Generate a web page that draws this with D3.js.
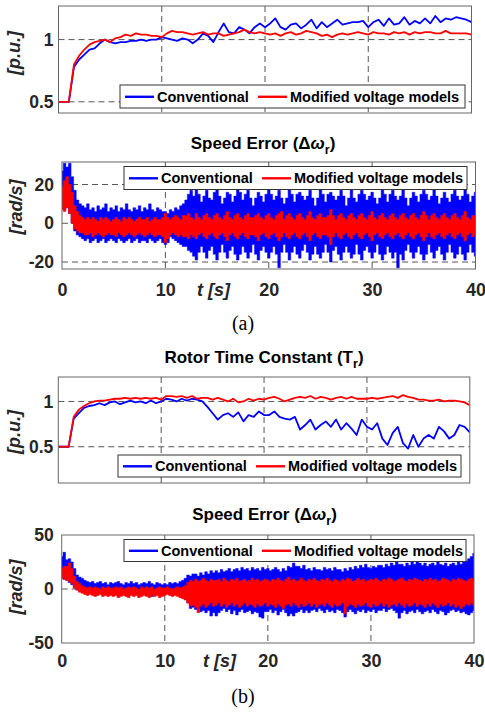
<!DOCTYPE html>
<html>
<head>
<meta charset="utf-8">
<script src="https://cdn.jsdelivr.net/npm/d3@7"></script>
<style>
  html, body { margin: 0; padding: 0; background: #fff; }
  svg { display: block; }
</style>
</head>
<body>
<svg id="fig" width="485" height="713"></svg>
<script>
// ---- shared labels ----
const timeTicks = [0, 10, 20, 30, 40];
const seriesNames = ["Conventional", "Modified voltage models"];
const seriesColors = ["#0000ff", "#ff0000"];

// ---- (a) rotor time constant estimate [p.u.], one sample every 0.5 s ----
const trStep = 0.5;
const trA_conv = [
  0.5, 0.5, 0.5, 0.78, 0.84, 0.88, 0.92, 0.93, 0.97, 1.0,
  0.98, 0.97, 0.98, 0.98, 0.99, 0.99, 1.0, 0.99, 1.0, 1.0,
  1.02, 1.01, 1.0, 0.99, 1.01, 1.0, 0.97, 1.0, 1.05, 1.03,
  0.98, 1.06, 1.13, 1.06, 1.05, 1.10, 1.08, 1.05, 1.10, 1.13,
  1.10, 1.13, 1.17, 1.10, 1.08, 1.12, 1.13, 1.09, 1.12, 1.16,
  1.09, 1.14, 1.10, 1.13, 1.16, 1.12, 1.13, 1.14, 1.14, 1.15,
  1.10, 1.14, 1.16, 1.11, 1.17, 1.12, 1.13, 1.18, 1.12, 1.15,
  1.13, 1.17, 1.13, 1.19, 1.14, 1.17, 1.16, 1.18, 1.17, 1.16, 1.14
];
const trA_mod = [
  0.5, 0.5, 0.5, 0.8, 0.87, 0.92, 0.96, 0.98, 0.99, 1.0,
  0.98, 1.01, 1.02, 1.04, 1.03, 1.05, 1.04, 1.04, 1.03, 1.03,
  1.02, 1.05, 1.07, 1.06, 1.06, 1.05, 1.04, 1.05, 1.06, 1.04,
  1.05, 1.05, 1.03, 1.04, 1.05, 1.06, 1.08, 1.06, 1.05, 1.06,
  1.05, 1.04, 1.05, 1.03, 1.05, 1.06, 1.04, 1.05, 1.07, 1.06,
  1.05, 1.03, 1.04, 1.02, 1.04, 1.05, 1.04, 1.05, 1.06, 1.05,
  1.04, 1.06, 1.05, 1.05, 1.04, 1.06, 1.05, 1.06, 1.04, 1.06,
  1.05, 1.06, 1.06, 1.05, 1.05, 1.07, 1.05, 1.05, 1.05, 1.05, 1.04
];

// ---- (a) speed error band [rad/s]: upper / lower envelope every 0.25 s ----
const seStep = 0.25;
const seA_convHi = [
  27, 31, 29, 31, 24, 17, 12, 10, 9, 8, 10, 7, 8, 6, 9, 7, 8, 10, 6, 8,
  7, 9, 6, 8, 7, 10, 7, 6, 8, 7, 9, 6, 8, 7, 10, 7, 6, 8, 7, 6,
  6, 5, 7, 6, 8, 7, 9, 10, 12, 15, 17, 14, 18, 15, 11, 14, 17, 13, 12, 16,
  18, 14, 10, 13, 16, 15, 11, 14, 18, 16, 12, 15, 17, 13, 9, 13, 16, 14, 11, 15,
  18, 15, 12, 14, 17, 13, 10, 13, 18, 15, 11, 15, 16, 14, 12, 14, 17, 13, 9, 13,
  18, 15, 11, 15, 16, 14, 12, 14, 17, 14, 9, 13, 18, 13, 11, 15, 17, 15, 12, 14,
  16, 13, 10, 13, 18, 15, 11, 15, 17, 14, 12, 14, 18, 13, 9, 13, 16, 14, 11, 15,
  17, 15, 12, 14, 18, 14, 10, 13, 16, 13, 11, 15, 17, 14, 12, 14, 18, 15, 11, 14,
  16
];
const seA_convLo = [
  9, 7, 8, 5, 0, -4, -6, -7, -8, -9, -8, -10, -9, -8, -10, -9, -8, -10, -9, -8,
  -9, -10, -8, -9, -10, -9, -8, -10, -9, -8, -10, -9, -9, -10, -8, -9, -10, -9, -8, -10,
  -11, -10, -7, -8, -9, -10, -11, -12, -12, -14, -15, -17, -19, -15, -12, -15, -18, -14, -12, -16,
  -19, -15, -11, -15, -18, -14, -12, -16, -19, -16, -12, -15, -18, -15, -11, -16, -19, -14, -12, -15,
  -18, -15, -12, -16, -23, -15, -11, -15, -19, -15, -12, -16, -18, -14, -11, -15, -19, -16, -12, -16,
  -18, -15, -11, -15, -20, -14, -12, -16, -19, -15, -12, -15, -18, -16, -11, -16, -19, -14, -12, -15,
  -18, -15, -11, -16, -19, -16, -12, -15, -18, -15, -23, -16, -19, -14, -11, -15, -18, -15, -12, -16,
  -19, -16, -11, -15, -18, -14, -12, -16, -19, -15, -11, -15, -18, -16, -12, -16, -19, -15, -11, -15,
  -17
];
const seA_modHi = [
  19, 22, 24, 20, 16, 9, 6, 4, 3, 2, 3, 2, 3, 2, 1, 3, 2, 3, 2, 1,
  2, 3, 2, 1, 3, 2, 3, 2, 1, 2, 3, 2, 2, 3, 1, 2, 3, 2, 2, 3,
  5, 3, 2, 3, 4, 3, 2, 4, 4, 5, 3, 2, 5, 3, 2, 4, 5, 3, 2, 4,
  5, 3, 2, 4, 6, 3, 2, 4, 5, 3, 2, 4, 5, 3, 3, 4, 5, 3, 2, 4,
  5, 3, 2, 4, 5, 6, 2, 4, 5, 3, 2, 4, 5, 3, 2, 4, 6, 3, 2, 4,
  5, 3, 3, 4, 7, 4, 2, 4, 5, 3, 2, 4, 5, 3, 2, 4, 5, 3, 2, 4,
  6, 3, 2, 4, 5, 3, 2, 4, 5, 3, 2, 4, 5, 3, 2, 4, 5, 3, 2, 4,
  6, 4, 2, 4, 5, 3, 2, 4, 5, 3, 2, 4, 5, 3, 2, 4, 6, 3, 2, 4,
  4
];
const seA_modLo = [
  7, 6, 8, 5, 0, -3, -4, -5, -5, -6, -6, -5, -7, -6, -5, -6, -7, -6, -5, -6,
  -6, -7, -5, -6, -7, -6, -5, -6, -7, -6, -5, -6, -7, -6, -5, -6, -7, -6, -6, -7,
  -10, -8, -6, -5, -6, -7, -6, -7, -7, -8, -6, -7, -8, -6, -5, -7, -8, -6, -5, -7,
  -8, -6, -5, -7, -9, -6, -5, -7, -8, -6, -5, -7, -8, -6, -6, -7, -9, -6, -5, -7,
  -8, -6, -5, -7, -9, -7, -5, -7, -8, -6, -5, -7, -8, -6, -5, -7, -9, -6, -5, -7,
  -8, -6, -6, -7, -11, -7, -5, -7, -8, -6, -5, -7, -8, -6, -5, -7, -8, -6, -5, -7,
  -9, -6, -5, -7, -8, -6, -5, -7, -8, -6, -5, -7, -8, -6, -5, -7, -8, -6, -5, -7,
  -9, -7, -5, -7, -8, -6, -5, -7, -8, -6, -5, -7, -8, -6, -5, -7, -9, -6, -5, -7,
  -6
];

// ---- (b) rotor time constant estimate [p.u.], one sample every 0.5 s ----
const trB_conv = [
  0.5, 0.5, 0.5, 0.81, 0.87, 0.93, 0.95, 0.96, 0.98, 0.96,
  0.99, 1.0, 0.97, 0.99, 1.01, 0.99, 1.0, 0.98, 1.01, 0.98,
  1.0, 1.03, 1.02, 1.0, 1.03, 1.01, 1.03, 1.02, 1.0, 0.94,
  0.87, 0.80, 0.85, 0.87, 0.83, 0.88, 0.78, 0.85, 0.83, 0.89,
  0.85, 0.85, 0.89, 0.83, 0.81, 0.80, 0.83, 0.69, 0.74, 0.80,
  0.69, 0.74, 0.78, 0.72, 0.80, 0.69, 0.76, 0.70, 0.63, 0.80,
  0.72, 0.69, 0.76, 0.59, 0.52, 0.65, 0.72, 0.54, 0.48, 0.63,
  0.50, 0.59, 0.63, 0.59, 0.72, 0.67, 0.59, 0.63, 0.74, 0.72, 0.66
];
const trB_mod = [
  0.5, 0.5, 0.5, 0.83, 0.91, 0.95, 0.98, 1.0, 1.01, 1.01,
  1.02, 1.03, 1.03, 1.04, 1.03, 1.04, 1.03, 1.04, 1.03, 1.04,
  1.02, 1.06, 1.06, 1.05, 1.06, 1.04, 1.06, 1.03, 1.04, 1.04,
  1.02, 1.04, 1.02, 1.0, 1.03, 0.99, 1.0, 1.03, 1.01, 1.03,
  1.02, 1.04, 1.05, 1.03, 1.0, 1.02, 1.04, 1.05, 1.04, 1.06,
  1.03, 1.05, 1.04, 1.02, 1.04, 1.05, 1.03, 1.05, 1.03, 1.03,
  1.03, 1.04, 1.03, 1.04, 1.05, 1.06, 1.04, 1.07, 1.05, 1.04,
  1.02, 1.02, 1.01, 1.01, 1.02, 1.0, 1.01, 1.01, 1.0, 0.99, 0.96
];

// ---- (b) speed error band [rad/s]: upper / lower envelope every 0.25 s ----
const seB_convHi = [
  30, 34, 27, 28, 25, 19, 13, 11, 10, 8, 7, 6, 7, 5, 6, 7, 5, 6, 4, 6,
  5, 6, 7, 5, 4, 6, 5, 7, 5, 6, 4, 5, 6, 5, 7, 5, 4, 6, 5, 4,
  5, 4, 6, 5, 6, 5, 7, 8, 10, 13, 12, 14, 14, 12, 15, 13, 16, 14, 17, 15,
  17, 15, 18, 16, 17, 19, 16, 18, 19, 17, 20, 18, 19, 17, 20, 18, 19, 17, 20, 18,
  19, 17, 18, 20, 18, 16, 19, 17, 21, 20, 24, 21, 21, 19, 22, 18, 19, 17, 20, 18,
  18, 17, 20, 18, 19, 17, 20, 18, 18, 16, 19, 17, 20, 18, 21, 19, 22, 20, 23, 20,
  19, 21, 20, 22, 22, 20, 23, 21, 24, 22, 25, 23, 23, 21, 24, 22, 25, 23, 26, 24,
  22, 24, 21, 23, 24, 22, 25, 23, 22, 24, 21, 23, 24, 22, 25, 23, 25, 26, 28, 30,
  33
];
const seB_convLo = [
  10, 9, 8, 6, 4, 1, -1, -2, -3, -4, -5, -4, -5, -6, -5, -4, -6, -5, -6, -5,
  -6, -5, -7, -6, -5, -6, -7, -5, -6, -5, -7, -6, -5, -6, -5, -7, -6, -5, -6, -5,
  -5, -4, -5, -6, -5, -6, -7, -8, -10, -13, -18, -17, -19, -18, -21, -20, -22, -20, -25, -22,
  -25, -22, -20, -18, -21, -19, -23, -20, -24, -21, -19, -22, -21, -20, -23, -21, -22, -26, -27, -21,
  -21, -19, -22, -20, -24, -21, -19, -22, -25, -23, -25, -22, -21, -19, -22, -20, -22, -20, -19, -21,
  -18, -20, -22, -19, -21, -20, -22, -19, -20, -22, -26, -21, -19, -21, -23, -20, -21, -19, -22, -20,
  -21, -19, -22, -20, -20, -18, -21, -19, -18, -20, -22, -27, -22, -20, -23, -21, -20, -22, -19, -21,
  -23, -21, -20, -22, -19, -21, -23, -20, -21, -24, -22, -20, -19, -21, -20, -22, -21, -23, -24, -22,
  -20
];
const seB_modHi = [
  19, 21, 21, 24, 19, 12, 7, 5, 3, 2, 1, 2, 1, 2, 1, 0, 2, 1, 2, 1,
  1, 2, 1, 2, 0, 1, 2, 1, 2, 1, 0, 2, 1, 2, 1, 2, 0, 1, 2, 1,
  1, 2, 1, 0, 1, 2, 1, 2, 3, 6, 8, 7, 9, 7, 8, 10, 8, 7, 9, 8,
  8, 9, 7, 10, 8, 7, 9, 8, 10, 7, 8, 9, 7, 8, 10, 8, 9, 7, 8, 9,
  8, 7, 9, 8, 10, 8, 7, 9, 11, 8, 9, 7, 8, 10, 8, 7, 9, 8, 10, 8,
  7, 9, 8, 10, 8, 7, 9, 8, 7, 9, 8, 10, 9, 7, 8, 10, 8, 9, 7, 8,
  9, 8, 10, 8, 7, 9, 8, 10, 9, 7, 8, 9, 10, 8, 7, 9, 8, 10, 9, 8,
  7, 9, 8, 10, 8, 9, 7, 8, 10, 9, 8, 7, 9, 8, 10, 9, 8, 7, 9, 10,
  8
];
const seB_modLo = [
  10, 9, 8, 7, 5, 1, -1, -3, -4, -5, -6, -5, -6, -7, -6, -5, -7, -6, -7, -6,
  -7, -6, -8, -7, -6, -7, -8, -6, -7, -6, -8, -7, -6, -7, -8, -6, -7, -6, -8, -7,
  -6, -5, -6, -7, -6, -7, -8, -9, -10, -13, -16, -15, -17, -22, -16, -14, -17, -15, -13, -16,
  -15, -13, -16, -14, -17, -15, -13, -16, -14, -17, -15, -13, -16, -14, -15, -17, -14, -16, -15, -13,
  -16, -14, -15, -17, -14, -16, -18, -15, -14, -16, -13, -15, -17, -14, -16, -15, -13, -16, -14, -17,
  -15, -14, -16, -13, -15, -17, -14, -16, -15, -13, -23, -16, -14, -15, -17, -14, -16, -15, -13, -16,
  -17, -14, -16, -15, -13, -16, -14, -17, -15, -14, -16, -13, -15, -17, -14, -16, -15, -13, -16, -14,
  -15, -17, -14, -16, -13, -15, -17, -14, -16, -15, -13, -16, -14, -17, -15, -18, -16, -14, -15, -13,
  -15
];

// ---- styling ----
const SANS = "'Liberation Sans', Arial, Helvetica, sans-serif";
const SERIF = "'Liberation Serif', 'Times New Roman', serif";
const TXT = "#262626";

const svg = d3.select("#fig");

// one subplot: axes box, dashed grid, data, ticks, labels, legend
function drawPanel(p) {
  const x = d3.scaleLinear().domain([0, 40]).range([p.left, p.right]);
  const y = d3.scaleLinear().domain(p.yDomain).range([p.bottom, p.top]);
  const g = svg.append("g");

  const clipId = "clip-" + p.id;
  svg.append("clipPath").attr("id", clipId)
    .append("rect")
    .attr("x", p.left).attr("y", p.top)
    .attr("width", p.right - p.left).attr("height", p.bottom - p.top);

  // dashed grid
  const grid = g.append("g").attr("stroke", "#555").attr("stroke-width", 1)
    .attr("stroke-dasharray", "6,4").attr("fill", "none");
  grid.selectAll(".gx").data(p.gridX).join("line")
    .attr("x1", d => x(d)).attr("x2", d => x(d))
    .attr("y1", p.top).attr("y2", p.bottom);
  grid.selectAll(".gy").data(p.gridY).join("line")
    .attr("x1", p.left).attr("x2", p.right)
    .attr("y1", d => y(d)).attr("y2", d => y(d));

  // data
  const plot = g.append("g").attr("clip-path", `url(#${clipId})`);
  if (p.kind === "line") {
    p.series.forEach((s, i) => {
      const line = d3.line()
        .x((d, j) => x(j * p.step))
        .y(d => y(d));
      plot.append("path").datum(s)
        .attr("d", line)
        .attr("fill", "none")
        .attr("stroke", seriesColors[i])
        .attr("stroke-width", 1.8)
        .attr("stroke-linejoin", "round");
    });
  } else {
    // dense oscillation drawn as its min/max envelope, one column per sample
    p.series.forEach(([hi, lo], i) => {
      const area = d3.area()
        .curve(d3.curveStep)
        .x((d, j) => x(j * p.step))
        .y0((d, j) => y(lo[j]))
        .y1(d => y(d));
      plot.append("path").datum(hi)
        .attr("d", area)
        .attr("fill", seriesColors[i])
        .attr("stroke", seriesColors[i])
        .attr("stroke-width", 0.5);
    });
  }

  // axes box
  g.append("rect")
    .attr("x", p.left).attr("y", p.top)
    .attr("width", p.right - p.left).attr("height", p.bottom - p.top)
    .attr("fill", "none").attr("stroke", "#666").attr("stroke-width", 1);

  // y ticks
  const yAxis = d3.axisLeft(y).tickValues(p.yTicks).tickSize(0)
    .tickPadding(p.yPad).tickFormat(d => String(d));
  const ya = g.append("g").attr("transform", `translate(${p.left},0)`).call(yAxis);
  ya.attr("font-family", null).attr("font-size", null);
  ya.select(".domain").remove();
  ya.selectAll("text")
    .attr("font-family", SANS).attr("font-size", 17.5)
    .attr("font-weight", "bold").attr("fill", TXT);

  // x ticks
  if (p.xTicks) {
    const xAxis = d3.axisBottom(x).tickValues(timeTicks).tickSize(0).tickFormat(d => String(d));
    const xa = g.append("g").attr("transform", `translate(0,${p.bottom})`).call(xAxis);
    xa.attr("font-family", null).attr("font-size", null);
    xa.select(".domain").remove();
    xa.selectAll("text")
      .attr("dy", null).attr("y", p.xBase)
      .attr("font-family", SANS).attr("font-size", 18)
      .attr("font-weight", "bold").attr("fill", TXT);
    g.append("text")
      .attr("x", p.tLabelX).attr("y", p.bottom + p.xBase)
      .attr("font-family", SANS).attr("font-size", 18)
      .attr("font-weight", "bold").attr("font-style", "italic")
      .attr("fill", TXT)
      .text("t [s]");
  }

  // y label
  g.append("text")
    .attr("transform", `translate(${p.yLabX},${p.yLabY}) rotate(-90)`)
    .attr("text-anchor", "middle")
    .attr("font-family", SANS).attr("font-size", 18)
    .attr("font-weight", "bold").attr("font-style", "italic")
    .attr("fill", TXT)
    .text(p.yLabel);

  // title with subscript
  if (p.title) {
    const t = g.append("text")
      .attr("x", p.titleX).attr("y", p.titleY)
      .attr("text-anchor", "middle")
      .attr("font-family", SANS).attr("font-size", 17)
      .attr("font-weight", "bold").attr("fill", "#000");
    t.append("tspan").text(p.title[0]);
    if (p.title[1]) t.append("tspan").attr("font-style", "italic").text(p.title[1]);
    t.append("tspan").attr("font-size", 12.5).attr("dy", 5).text(p.title[2]);
    t.append("tspan").attr("dy", -5).text(")");
  }

  // legend
  const L = p.legend;
  const lg = g.append("g");
  lg.append("rect")
    .attr("x", L.x).attr("y", L.y).attr("width", L.w).attr("height", L.h)
    .attr("fill", "#fff").attr("stroke", "#333").attr("stroke-width", 1);
  const items = [{ x0: 5, tx: 37 }, { x0: 138, tx: 170 }];
  items.forEach((it, i) => {
    lg.append("line")
      .attr("x1", L.x + it.x0).attr("x2", L.x + it.x0 + 29)
      .attr("y1", L.y + L.h / 2 + 0.3).attr("y2", L.y + L.h / 2 + 0.3)
      .attr("stroke", seriesColors[i]).attr("stroke-width", 2.4);
    lg.append("text")
      .attr("x", L.x + it.tx).attr("y", L.y + L.h / 2 + 5.3)
      .attr("font-family", SANS).attr("font-size", 14.5)
      .attr("font-weight", "bold").attr("fill", "#000")
      .text(seriesNames[i]);
  });
}

// (a) rotor time constant
drawPanel({
  id: "a1", kind: "line", step: trStep,
  series: [trA_conv, trA_mod],
  left: 58.5, right: 471.5, top: 6, bottom: 113,
  yDomain: [0.41, 1.27], yTicks: [0.5, 1], yPad: 5,
  gridX: [10, 20, 30], gridY: [0.5, 1],
  yLabel: "[p.u.]", yLabX: 20, yLabY: 53,
  legend: { x: 120, y: 85, w: 345, h: 23 }
});

// (a) speed error
drawPanel({
  id: "a2", kind: "band", step: seStep,
  series: [[seA_convHi, seA_convLo], [seA_modHi, seA_modLo]],
  left: 62, right: 475.5, top: 162, bottom: 269,
  yDomain: [-23.6, 31.6], yTicks: [-20, 0, 20], yPad: 8,
  gridX: [10, 20, 30], gridY: [-20, 0, 20],
  xTicks: true, xBase: 26.5, tLabelX: 197,
  yLabel: "[rad/s]", yLabX: 21.5, yLabY: 207,
  title: ["Speed Error (\u0394", "\u03c9", "r"], titleX: 263, titleY: 148.5,
  legend: { x: 124, y: 166.5, w: 343, h: 23 }
});

// (b) rotor time constant
drawPanel({
  id: "b1", kind: "line", step: trStep,
  series: [trB_conv, trB_mod],
  left: 58.3, right: 469.8, top: 377, bottom: 483,
  yDomain: [0.1, 1.27], yTicks: [0.5, 1], yPad: 5,
  gridX: [10, 20, 30], gridY: [0.5, 1],
  yLabel: "[p.u.]", yLabX: 20, yLabY: 432,
  title: ["Rotor Time Constant (T", null, "r"], titleX: 264, titleY: 363,
  legend: { x: 118, y: 455, w: 343, h: 22 }
});

// (b) speed error
drawPanel({
  id: "b2", kind: "band", step: seStep,
  series: [[seB_convHi, seB_convLo], [seB_modHi, seB_modLo]],
  left: 61.7, right: 474, top: 535, bottom: 643,
  yDomain: [-50, 50], yTicks: [-50, 0, 50], yPad: 8,
  gridX: [10, 20, 30], gridY: [0],
  xTicks: true, xBase: 24, tLabelX: 203,
  yLabel: "[rad/s]", yLabX: 21.5, yLabY: 587,
  title: ["Speed Error (\u0394", "\u03c9", "r"], titleX: 264.5, titleY: 519.5,
  legend: { x: 124, y: 539.5, w: 342, h: 22 }
});

// sub-figure captions
svg.append("text").attr("x", 243).attr("y", 329.5).attr("text-anchor", "middle")
  .attr("font-family", SERIF).attr("font-size", 20).attr("fill", "#000").text("(a)");
svg.append("text").attr("x", 243).attr("y", 703).attr("text-anchor", "middle")
  .attr("font-family", SERIF).attr("font-size", 20).attr("fill", "#000").text("(b)");
</script>
</body>
</html>
